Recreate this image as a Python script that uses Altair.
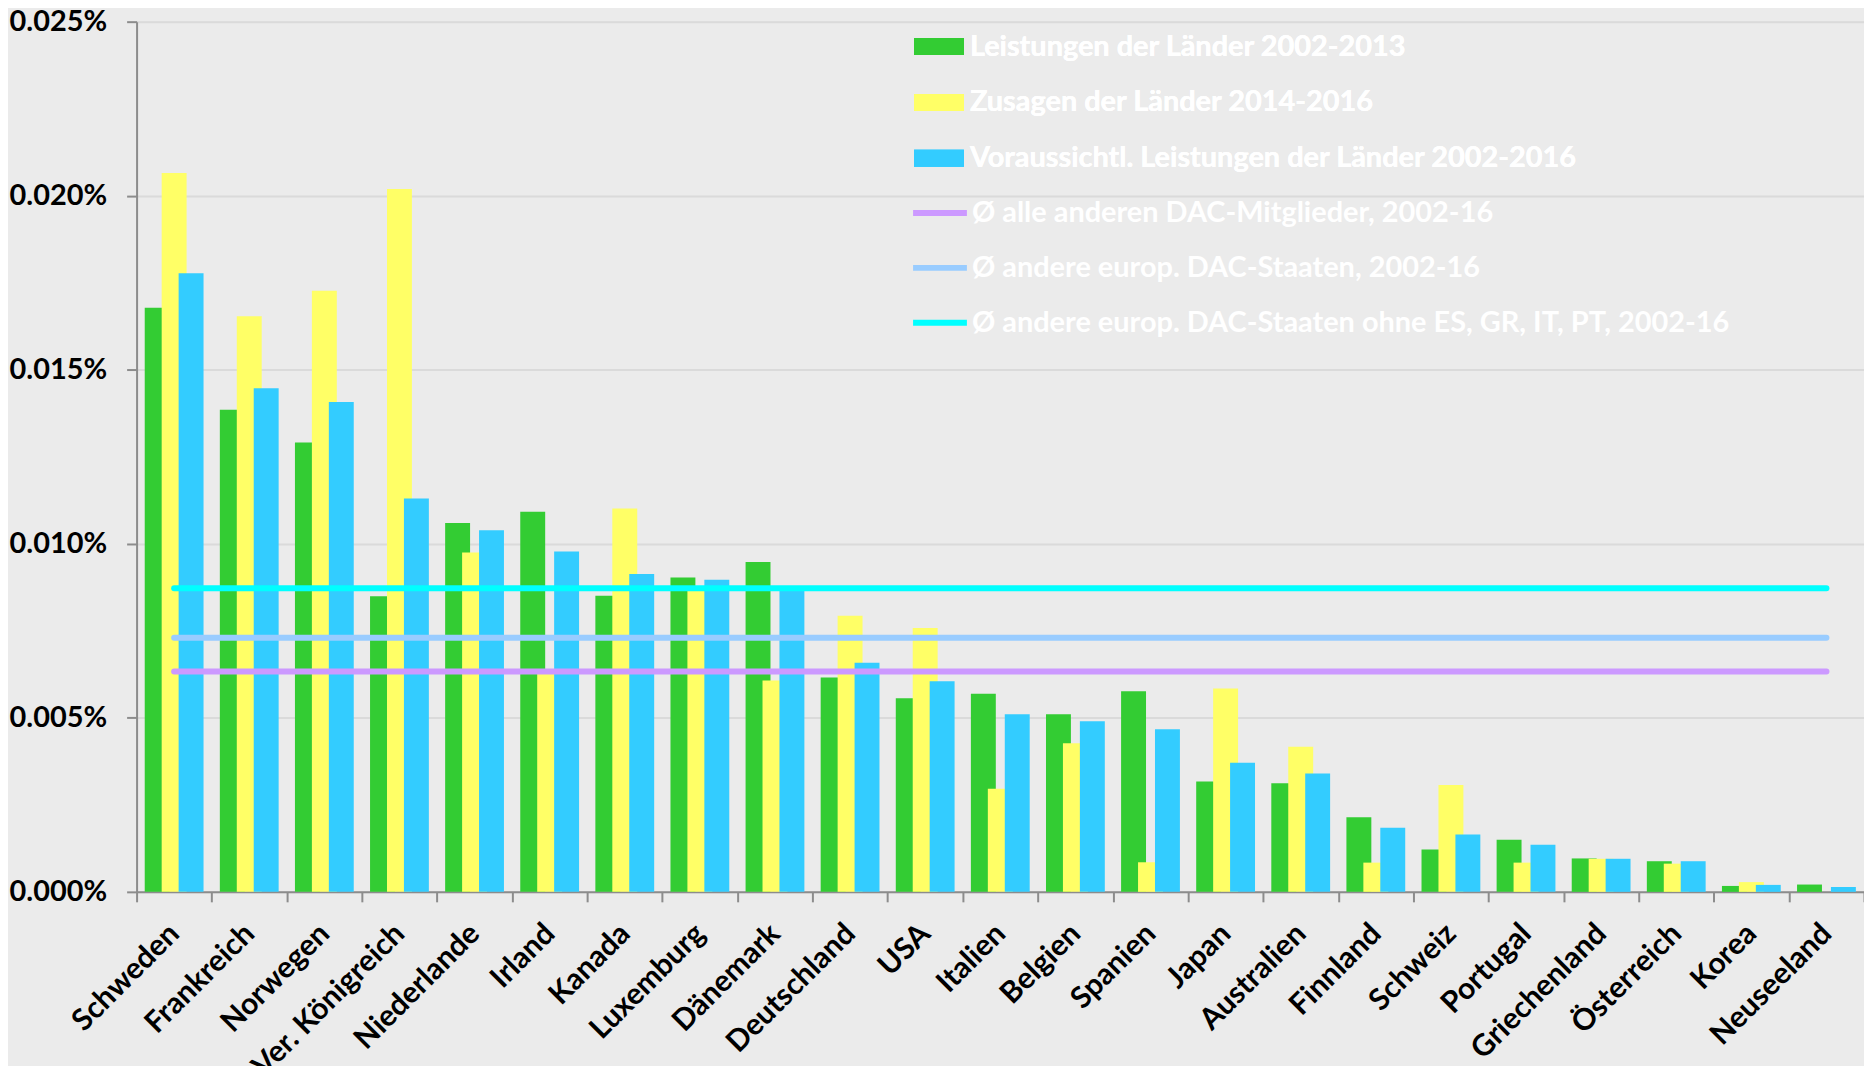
import altair as alt
import pandas as pd

countries = ["Schweden", "Frankreich", "Norwegen", "Ver. Königreich", "Niederlande", "Irland",
             "Kanada", "Luxemburg", "Dänemark", "Deutschland", "USA", "Italien", "Belgien",
             "Spanien", "Japan", "Australien", "Finnland", "Schweiz", "Portugal",
             "Griechenland", "Österreich", "Korea", "Neuseeland"]

# values in percent of GNI
leistungen = [0.01678, 0.01385, 0.01291, 0.00849, 0.01060, 0.01092, 0.00851, 0.00903, 0.00948,
              0.00616, 0.00556, 0.00569, 0.00510, 0.00576, 0.00317, 0.00312, 0.00214, 0.00122,
              0.00150, 0.00096, 0.00088, 0.00017, 0.00021]
zusagen = [0.02065, 0.01654, 0.01727, 0.02019, 0.00975, 0.00630, 0.01101, 0.00870, 0.00607,
           0.00793, 0.00758, 0.00296, 0.00427, 0.00085, 0.00584, 0.00417, 0.00084, 0.00307,
           0.00084, 0.00095, 0.00081, 0.00028, 0.0]
voraus = [0.01777, 0.01447, 0.01407, 0.01130, 0.01039, 0.00978, 0.00913, 0.00897, 0.00870,
          0.00658, 0.00605, 0.00510, 0.00490, 0.00467, 0.00371, 0.00340, 0.00184, 0.00165,
          0.00135, 0.00095, 0.00088, 0.00020, 0.00014]

bar_series = ["Leistungen der Länder 2002-2013",
              "Zusagen der Länder 2014-2016",
              "Voraussichtl. Leistungen der Länder 2002-2016"]
bar_colors = ["#33CC33", "#FFFF66", "#33CCFF"]

line_series = ["Ø alle anderen DAC-Mitglieder, 2002-16",
               "Ø andere europ. DAC-Staaten, 2002-16",
               "Ø andere europ. DAC-Staaten ohne  ES, GR, IT, PT, 2002-16"]
line_values = [0.00633, 0.00730, 0.00872]
line_colors = ["#CC99FF", "#99CCFF", "#00FFFF"]

y_ticks = [0.0, 0.005, 0.010, 0.015, 0.020, 0.025]

rows = []
for s, vals in zip(bar_series, [leistungen, zusagen, voraus]):
    for c, v in zip(countries, vals):
        rows.append({"country": c, "series": s, "value": v})
df_bars = pd.DataFrame(rows)

df_lines = pd.DataFrame({"series": line_series, "value": line_values,
                         "start": [countries[0]] * 3, "end": [countries[-1]] * 3})

FONT = "Lato"
GRAY = "#8C8C8C"

x_scale = alt.Scale(domain=countries, paddingInner=0, paddingOuter=0)
x_axis = alt.Axis(title=None, labelAngle=-45, labelAlign="right", labelBaseline="middle",
                  labelFont=FONT, labelFontSize=30, labelFontWeight="bold", labelColor="black",
                  labelPadding=27, tickBand="extent", tickSize=10, tickColor=GRAY, tickWidth=2,
                  domainColor=GRAY, domainWidth=2, grid=False, labelLimit=400)
y_scale = alt.Scale(domain=[0, 0.025], nice=False)
y_axis = alt.Axis(title=None, values=y_ticks, labelExpr="format(datum.value, '.3f') + '%'",
                  labelFont=FONT, labelFontSize=29, labelFontWeight="bold", labelColor="black",
                  labelPadding=20, tickSize=10, tickColor=GRAY, tickWidth=2,
                  domainColor=GRAY, domainWidth=2, grid=True, gridColor="#DADADA", gridWidth=2)

fill_legend = alt.Legend(title=None, orient="none", legendX=780, legendY=0, padding=0,
                         symbolType="M-1,-0.34L1,-0.34L1,0.34L-1,0.34Z", symbolSize=2500,
                         symbolStrokeWidth=0, labelFont=FONT, labelFontSize=29,
                         labelFontWeight="bold", labelColor="white", labelOffset=6,
                         labelLimit=1200, rowPadding=16)
stroke_legend = alt.Legend(title=None, orient="none", legendX=776, legendY=162, padding=0,
                           symbolType="stroke", symbolSize=2916, symbolStrokeWidth=6,
                           labelFont=FONT, labelFontSize=29, labelFontWeight="bold",
                           labelColor="white", labelOffset=2, labelLimit=1200, rowPadding=10)

fill_enc = alt.Fill("series:N", scale=alt.Scale(domain=bar_series, range=bar_colors),
                    legend=fill_legend, sort=bar_series)

layers = []
for s, off in zip(bar_series, [-17, 0, 17]):
    layers.append(
        alt.Chart(df_bars).transform_filter(alt.datum.series == s)
        .mark_bar(width=25, xOffset=off)
        .encode(x=alt.X("country:N", sort=countries, scale=x_scale, axis=x_axis),
                y=alt.Y("value:Q", scale=y_scale, axis=y_axis),
                fill=fill_enc)
    )

lines = alt.Chart(df_lines).mark_rule(strokeWidth=6, strokeCap="round").encode(
    x=alt.X("start:N", sort=countries, scale=x_scale, axis=x_axis),
    x2="end:N",
    y=alt.Y("value:Q", scale=y_scale, axis=y_axis),
    stroke=alt.Stroke("series:N", scale=alt.Scale(domain=line_series, range=line_colors),
                      legend=stroke_legend, sort=line_series),
)
layers.append(lines)

chart = alt.layer(*layers).properties(
    width=1733, height=873,
    autosize=alt.AutoSizeParams(type="none"),
    padding={"left": 129, "top": 12, "right": 0, "bottom": 173},
    background="#EBEBEB",
    title=alt.TitleParams("Bruttonationaleinkommens (BNE)", font=FONT, fontSize=28,
                          fontWeight="bold", color="black", anchor="middle", dx=-145,
                          offset=7, baseline="bottom"),
).resolve_scale(fill="independent", stroke="independent").configure_view(
    fill="#606060", stroke="#A0A0A0", strokeWidth=1
).configure(font=FONT)

chart.save("out.html", embed_options={"renderer": "svg", "actions": False})
